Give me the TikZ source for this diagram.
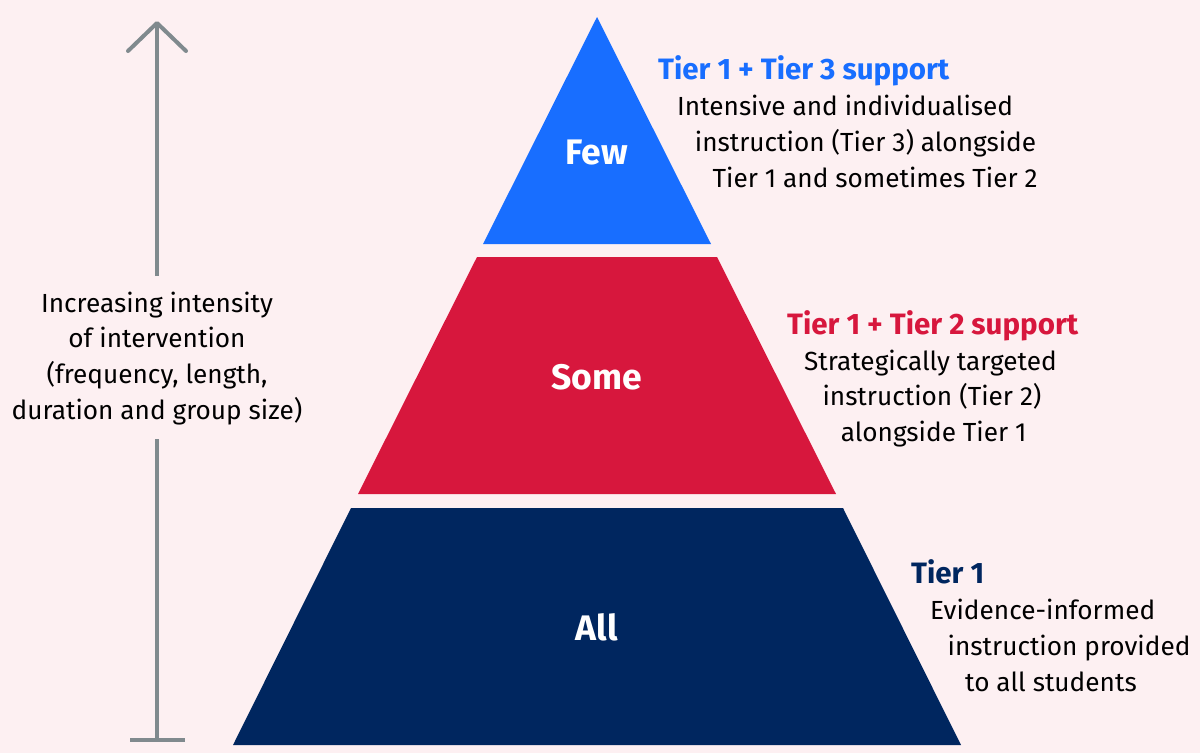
\documentclass[tikz,border=0pt]{standalone}
\usepackage{fontspec}
\setmainfont{Fira Sans}
\usepackage{tikz}
\usetikzlibrary{arrows.meta}

\definecolor{bgpink}{HTML}{FDF0F2}
\definecolor{fewblue}{HTML}{186EFF}
\definecolor{somered}{HTML}{D7173D}
\definecolor{allnavy}{HTML}{00265F}
\definecolor{axisgrey}{HTML}{808A8E}

\tikzset{
  tierword/.style={text=white, font=\fontsize{35.5}{40}\selectfont\bfseries},
  tierhead/.style={anchor=base west, inner sep=0pt, font=\fontsize{29.5}{34}\selectfont\bfseries},
  body/.style={anchor=base west, inner sep=0pt, font=\fontsize{26.2}{30}\selectfont},
  sidetext/.style={anchor=base, inner sep=0pt, font=\fontsize{26.2}{30}\selectfont},
  axisline/.style={axisgrey, line width=4pt}
}

\begin{document}
\begin{tikzpicture}[x=1pt, y=-1pt]
\fill[bgpink] (0,0) rectangle (1200,753);
\useasboundingbox (0,0) rectangle (1200,753);

% pyramid, apex at (597,17), sides of slope 1:2
\fill[fewblue] (597,17) -- (711,244) -- (483,244) -- cycle;
\fill[somered] (477,257) -- (717,257) -- (836,494) -- (358,494) -- cycle;
\fill[allnavy] (351,508) -- (843,508) -- (961,745) -- (233,745) -- cycle;

\node[tierword] (few) at (597,152) {Few};
\node[tierword] (some) at (597,377) {Some};
\node[tierword] (all) at (597,627) {All};

% labels to the right of each tier
\node[tierhead, text=fewblue] (h3) at (658,79) {Tier 1 + Tier 3 support};
\foreach \txt [count=\i] in {{Intensive and individualised},{instruction (Tier 3) alongside},{Tier 1 and sometimes Tier 2}}
  \node[body, name=t3-\i] at ({677+17.7*(\i-1)},{115+36.3*(\i-1)}) {\txt};

\node[tierhead, text=somered] (h2) at (787,334) {Tier 1 + Tier 2 support};
\foreach \txt [count=\i] in {{Strategically targeted},{instruction (Tier 2)},{alongside Tier 1}}
  \node[body, name=t2-\i] at ({804+18.3*(\i-1)},{370+35.5*(\i-1)}) {\txt};

\node[tierhead, text=allnavy] (h1) at (911,583) {Tier 1};
\foreach \txt [count=\i] in {{Evidence-informed},{instruction provided},{to all students}}
  \node[body, name=t1-\i] at ({930+17.5*(\i-1)},{619+36*(\i-1)}) {\txt};

% intensity axis, broken around its caption
\foreach \txt [count=\i] in {{Increasing intensity},{of intervention},{(frequency, length,},{duration and group size)}}
  \node[sidetext, name=s-\i] at (157,{312+35.7*(\i-1)}) {\txt};
\coordinate (axtop) at (157,21);
\coordinate (axbot) at (157,742);
\coordinate (gaptop) at (157,276);
\coordinate (gapbot) at (157,439);
\draw[axisline, -{Straight Barb[length=28pt, width=58pt, round]}] (gaptop) -- (axtop);
\draw[axisline, {Bar[width=55pt]}-] (axbot) -- (gapbot);
\end{tikzpicture}
\end{document}
